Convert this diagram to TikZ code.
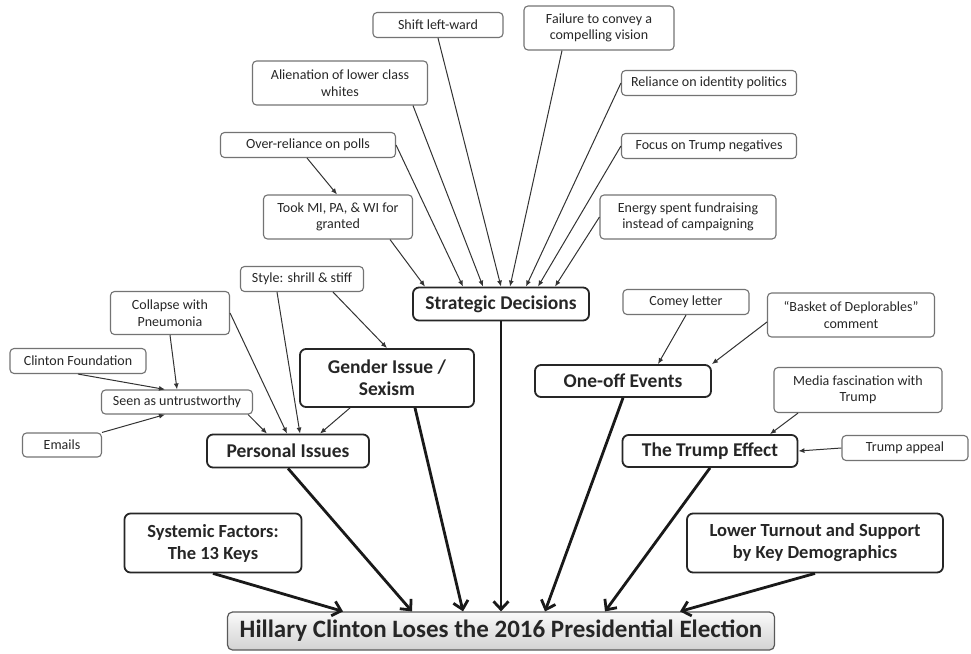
\documentclass[tikz,border=0pt]{standalone}
\usepackage{fontspec}
\setmainfont{Carlito}
\usetikzlibrary{arrows.meta,positioning}

\begin{document}
\begin{tikzpicture}[x=1pt, y=-1pt,
  cause/.style={rectangle, draw=gray!90!black, line width=1.1pt, rounded corners=4pt, align=center, text=black!85, font=\fontsize{14}{16.5}\selectfont, inner sep=2pt, minimum height=25pt},
  factor/.style={rectangle, draw=black!85, line width=1.8pt, rounded corners=6pt, align=center, text=black!85, font=\bfseries\fontsize{19.5}{22}\selectfont, inner sep=2pt, minimum height=33pt},
  outcome/.style={rectangle, draw=gray!70!black, line width=1.2pt, rounded corners=5pt, top color=gray!4, bottom color=gray!35, align=center, text=black!85, font=\bfseries\fontsize{25}{28}\selectfont, minimum width=547pt, minimum height=38pt},
  link/.style={-{Latex[length=6pt,width=5pt]}, line width=1pt, draw=black!80},
  main/.style={-{Straight Barb[length=8pt,width=15pt]}, line width=2.8pt, draw=black!90}
]
  \useasboundingbox (0,0) rectangle (971,653);

  \node[cause, minimum width=130pt] (shift) at (438,25) {Shift left-ward};
  \node[cause, minimum width=150pt, minimum height=44pt] (fail) at (599,28) {Failure to convey a\\compelling vision};
  \node[cause, minimum width=175pt, minimum height=44pt] (alien) at (340,83) {Alienation of lower class\\whites};
  \node[cause, minimum width=175pt] (ident) at (709,83) {Reliance on identity politics};
  \node[cause, minimum width=175pt] (polls) at (308,145) {Over-reliance on polls};
  \node[cause, minimum width=175pt] (neg) at (709,146) {Focus on Trump negatives};
  \node[cause, minimum width=149pt, minimum height=44pt] (took) at (338,217) {Took MI, PA, \& WI for\\granted};
  \node[cause, minimum width=176pt, minimum height=44pt] (energy) at (688,217) {Energy spent fundraising\\instead of campaigning};
  \node[factor, minimum width=176pt] (strat) at (501,304) {Strategic Decisions};

  \node[cause, minimum width=123pt] (style) at (302,279) {Style: shrill \& stiff};
  \node[cause, minimum width=119pt, minimum height=43pt] (collapse) at (170,313) {Collapse with\\Pneumonia};
  \node[cause, minimum width=136pt] (found) at (78,361) {Clinton Foundation};
  \node[cause, minimum width=151pt, minimum height=24pt] (seen) at (177,402) {Seen as untrustworthy};
  \node[cause, minimum width=79pt, minimum height=24pt] (emails) at (62,445) {Emails};
  \node[factor, minimum width=174pt, minimum height=58pt] (gender) at (387,378) {Gender Issue /\\Sexism};
  \node[factor, minimum width=162pt] (personal) at (288,451) {Personal Issues};

  \node[cause, minimum width=126pt] (comey) at (686,302) {Comey letter};
  \node[cause, minimum width=167pt, minimum height=44pt] (basket) at (851,315) {“Basket of Deplorables”\\comment};
  \node[factor, minimum width=176pt, minimum height=32pt] (oneoff) at (623,381) {One-off Events};
  \node[cause, minimum width=168pt, minimum height=45pt] (media) at (858,390) {Media fascination with\\Trump};
  \node[factor, minimum width=175pt, minimum height=32pt] (trumpeff) at (710,451) {The Trump Effect};
  \node[cause, minimum width=126pt] (appeal) at (905,448) {Trump appeal};

  \node[factor, minimum width=177pt, minimum height=59pt, font=\bfseries\fontsize{18.5}{22}\selectfont] (systemic) at (213,543) {Systemic Factors:\\The 13 Keys};
  \node[factor, minimum width=256pt, minimum height=59pt, font=\bfseries\fontsize{18.5}{22}\selectfont] (lower) at (815,543) {Lower Turnout and Support\\by Key Demographics};
  \node[outcome] (loss) at (501,631) {Hillary Clinton Loses the 2016 Presidential Election};

  \draw[link] ([xshift=52pt]took.south) -- ([xshift=-76pt]strat.north);
  \draw[link] (polls.east) -- ([xshift=-38pt]strat.north);
  \draw[link] ([xshift=73pt]alien.south) -- ([xshift=-18pt]strat.north);
  \draw[link] (shift.south) -- (strat.north);
  \draw[link] ([xshift=-37pt]fail.south) -- ([xshift=9pt]strat.north);
  \draw[link] (ident.west) -- ([xshift=25pt]strat.north);
  \draw[link] (neg.west) -- ([xshift=37pt]strat.north);
  \draw[link] (energy.west) -- ([xshift=54pt]strat.north);
  \draw[link] ([xshift=-1pt]polls.south) -- ([xshift=-1pt]took.north);

  \draw[link] (collapse.south) -- (seen.north);
  \draw[link] (found.south) -- ([xshift=-12pt]seen.north);
  \draw[link] (emails.north east) -- ([xshift=-12pt]seen.south);
  \draw[link] ([xshift=-5pt]seen.south east) -- ([xshift=-21pt]personal.north);
  \draw[link] (collapse.east) -- ([xshift=-1pt]personal.north);
  \draw[link] ([xshift=-25pt]style.south) -- ([xshift=12pt]personal.north);
  \draw[link] ([xshift=31pt]style.south) -- (gender.north);
  \draw[link] ([xshift=-37pt]gender.south) -- ([xshift=32pt]personal.north);

  \draw[link] (comey.south) -- ([xshift=35pt]oneoff.north);
  \draw[link] ([yshift=-7pt]basket.west) -- (oneoff.north east);
  \draw[link] ([xshift=-60pt]media.south) -- ([xshift=60pt]trumpeff.north);
  \draw[link] (appeal.west) -- (trumpeff.east);

  \draw[main] (systemic.south) -- ([xshift=-158pt]loss.north);
  \draw[main] (personal.south) -- ([xshift=-89pt]loss.north);
  \draw[main] ([xshift=28pt]gender.south) -- ([xshift=-38pt]loss.north);
  \draw[main] (strat.south) -- (loss.north);
  \draw[main] (oneoff.south) -- ([xshift=44pt]loss.north);
  \draw[main] (trumpeff.south) -- ([xshift=104pt]loss.north);
  \draw[main] (lower.south) -- ([xshift=179pt]loss.north);
\end{tikzpicture}
\end{document}
